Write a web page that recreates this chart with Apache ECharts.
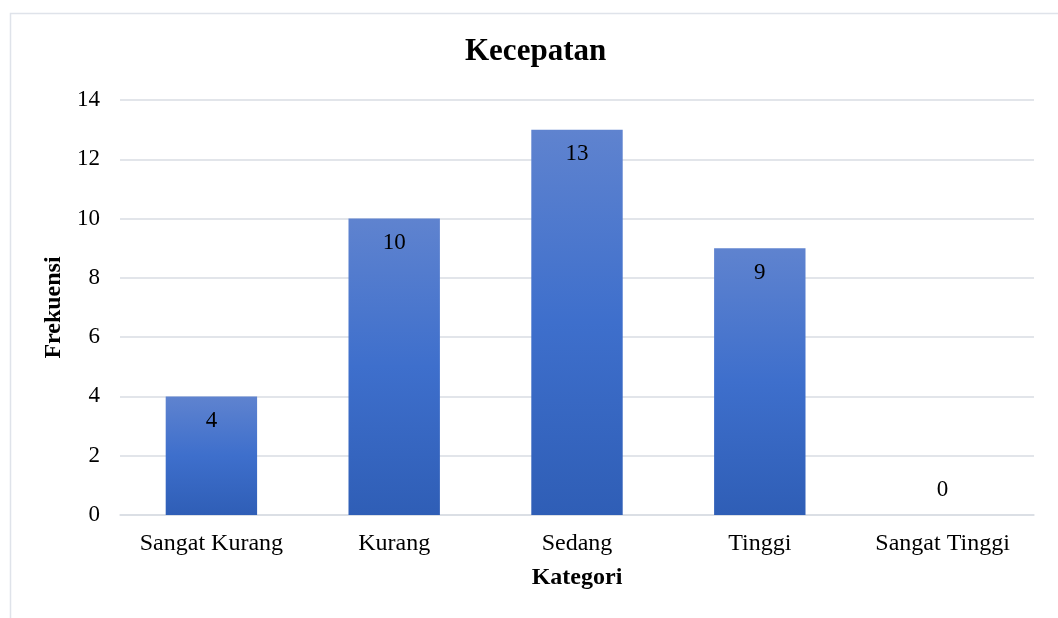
<!DOCTYPE html>
<html>
<head>
<meta charset="utf-8">
<script src="https://cdn.jsdelivr.net/npm/echarts@6/dist/echarts.min.js"></script>
<style>html,body{margin:0;padding:0;background:#fff;}#c{width:1058px;height:618px;}</style>
</head>
<body>
<div id="c"></div>
<script>
var categories = ['Sangat Kurang', 'Kurang', 'Sedang', 'Tinggi', 'Sangat Tinggi'];
var values = [4, 10, 13, 9, 0];
var yTicks = [0, 2, 4, 6, 8, 10, 12, 14];

var chart = echarts.init(document.getElementById('c'));
var font = '"Liberation Serif", "Times New Roman", serif';
var grad = new echarts.graphic.LinearGradient(0, 0, 0, 1, [
  {offset: 0, color: '#5f83cf'},
  {offset: 0.5, color: '#3e6fcc'},
  {offset: 1, color: '#2f5eb6'}
]);
chart.setOption({
  animation: false,
  textStyle: {fontFamily: font},
  graphic: [{
    type: 'rect', left: 8, top: 11, silent: true,
    shape: {width: 1070, height: 640},
    style: {fill: 'none', stroke: '#dfe3ea', lineWidth: 1.5}
  }],
  title: {
    text: 'Kecepatan', left: 460, top: 31,
    textStyle: {fontFamily: font, fontSize: 31, fontWeight: 'bold', color: '#000'}
  },
  grid: {left: 120, right: 24, top: 100, bottom: 103},
  xAxis: {
    type: 'category', data: categories,
    name: 'Kategori', nameLocation: 'middle', nameGap: 51,
    nameTextStyle: {fontFamily: font, fontSize: 24, fontWeight: 'bold', color: '#000'},
    axisLine: {lineStyle: {color: '#d9dde3', width: 1.5}},
    axisTick: {show: false},
    axisLabel: {fontFamily: font, fontSize: 24, color: '#000', margin: 17, interval: 0}
  },
  yAxis: {
    type: 'value', min: yTicks[0], max: yTicks[yTicks.length - 1], interval: 2,
    name: 'Frekuensi', nameLocation: 'middle', nameGap: 50,
    nameTextStyle: {fontFamily: font, fontSize: 24, fontWeight: 'bold', color: '#000'},
    axisLine: {show: false}, axisTick: {show: false},
    axisLabel: {fontFamily: font, fontSize: 23, color: '#000', margin: 20},
    splitLine: {lineStyle: {color: '#d9dde3', width: 1.5}}
  },
  series: [{
    type: 'bar', barWidth: '50%',
    data: values.map(function (v) {
      var d = {value: v};
      if (v === 0) d.label = {position: 'top', distance: 14};
      return d;
    }),
    itemStyle: {color: grad},
    label: {show: true, position: 'insideTop', distance: 13,
      fontFamily: font, fontSize: 23, color: '#000'}
  }]
});
</script>
</body>
</html>
